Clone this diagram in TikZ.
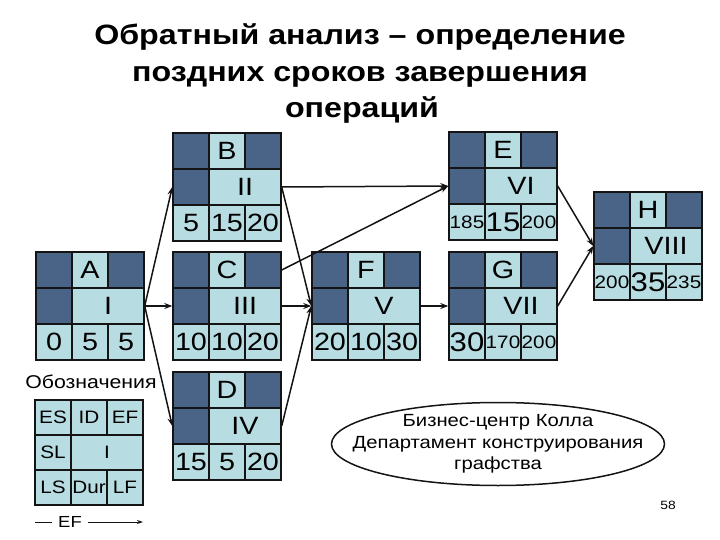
\documentclass[tikz,border=0pt]{standalone}
\usepackage{fontspec}
\setmainfont[FakeStretch=1.15]{Liberation Sans}
\usetikzlibrary{arrows.meta,calc,shapes.geometric}
\definecolor{dk}{RGB}{74,100,135}
\definecolor{lt}{RGB}{183,221,226}
\definecolor{ln}{RGB}{20,20,20}
\tikzset{
 cell/.style={draw=ln, line width=1.4pt, minimum width=36pt, minimum height=36pt, inner sep=0pt, anchor=center, font=\fontsize{25}{25}\selectfont},
 dcell/.style={cell, fill=dk},
 lcell/.style={cell, fill=lt},
 wcell/.style={cell, fill=lt, minimum width=72pt},
 lgcell/.style={lcell, minimum height=35pt, font=\fontsize{18}{18}\selectfont},
 lgwide/.style={lgcell, minimum width=72pt},
 conn/.style={draw=ln, line width=1.5pt, -{Stealth[length=8pt,width=6pt]}},
}
\newcommand{\sm}{\fontsize{18}{18}\selectfont}
\newcommand{\bg}{\fontsize{27}{27}\selectfont}
\newcommand{\actbox}[8]{%
\begin{scope}[shift={(#2,#3)}]
\node[dcell] (#1-tl) at (18,18) {};
\node[lcell] (#1-tm) at (54,18) {#4};
\node[dcell] (#1-tr) at (90,18) {};
\node[dcell] (#1-ml) at (18,54) {};
\node[wcell] (#1-mm) at (72,54) {#5};
\node[lcell] (#1-bl) at (18,90) {#6};
\node[lcell] (#1-bm) at (54,90) {#7};
\node[lcell] (#1-br) at (90,90) {#8};
\end{scope}}
\begin{document}
\begin{tikzpicture}[x=1pt,y=-1pt]
\useasboundingbox (0,0) rectangle (720,540);
% title
\node[font=\bfseries\fontsize{28}{28}\selectfont, anchor=base] (t1) at (360,45) {Обратный анализ – определение};
\node[font=\bfseries\fontsize{28}{28}\selectfont, anchor=base] (t2) at (360,82) {поздних сроков завершения};
\node[font=\bfseries\fontsize{28}{28}\selectfont, anchor=base] (t3) at (362,118) {операций};
% boxes
\actbox{A}{36}{252}{A}{I}{0}{5}{5}
\actbox{B}{173}{133}{B}{II}{5}{15}{20}
\actbox{C}{173}{252}{C}{III}{10}{10}{20}
\actbox{D}{173}{372}{D}{IV}{15}{5}{20}
\actbox{E}{449}{132}{E}{VI}{\sm 185}{\bg 15}{\sm 200}
\actbox{F}{312}{252}{F}{V}{20}{10}{30}
\actbox{G}{449}{252}{G}{VII}{\bg 30}{\sm 170}{\sm 200}
\actbox{H}{594}{192}{H}{VIII}{\sm 200}{\bg 35}{\sm 235}
% connectors
\draw[conn] (A-mm.east) -- (B-ml.west);
\draw[conn] (A-mm.east) -- (C-ml.west);
\draw[conn] (A-mm.east) -- (D-ml.west);
\draw[conn] (B-mm.east) -- (E-ml.west);
\draw[conn] (B-mm.east) -- (F-ml.west);
\draw[conn] (C-tr.east) -- (E-ml.west);
\draw[conn] (C-mm.east) -- (F-ml.west);
\draw[conn] (D-mm.east) -- (F-ml.west);
\draw[conn] (F-mm.east) -- (G-ml.west);
\draw[conn] (E-mm.east) -- (H-ml.west);
\draw[conn] (G-mm.east) -- (H-ml.west);
% legend
\node[font=\fontsize{18.5}{18.5}\selectfont, anchor=base] (lt) at (91,388) {Обозначения};
\begin{scope}[shift={(35,400)}]
\node[lgcell] (L-tl) at (18,17.5) {ES};
\node[lgcell] (L-tm) at (54,17.5) {ID};
\node[lgcell] (L-tr) at (90,17.5) {EF};
\node[lgcell] (L-ml) at (18,52.5) {SL};
\node[lgwide] (L-mm) at (72,52.5) {I};
\node[lgcell] (L-bl) at (18,87.5) {LS};
\node[lgcell] (L-bm) at (54,87.5) {Dur};
\node[lgcell] (L-br) at (90,87.5) {LF};
\end{scope}
\node[font=\fontsize{16}{16}\selectfont, inner sep=6pt] (ef) at (70,522) {EF};
\coordinate (e1) at (35,522);
\coordinate (e2) at (143,522);
\draw[ln, line width=1pt] (e1) -- (ef.west);
\draw[ln, line width=1pt, -{Stealth[length=6pt,width=4pt]}] (ef.east) -- (e2);
% ellipse
\node[ellipse, draw=ln, line width=1.5pt, minimum width=333pt, minimum height=83pt, inner sep=0pt] (ell) at (498,444) {};
\node[align=center, inner sep=0pt, font=\fontsize{17.6}{21.5}\selectfont] (elltext) at (ell.center) {Бизнес-центр Колла\\Департамент конструирования\\графства};
\node[font=\fontsize{12}{12}\selectfont] (pg) at (668,505) {58};
\end{tikzpicture}
\end{document}
